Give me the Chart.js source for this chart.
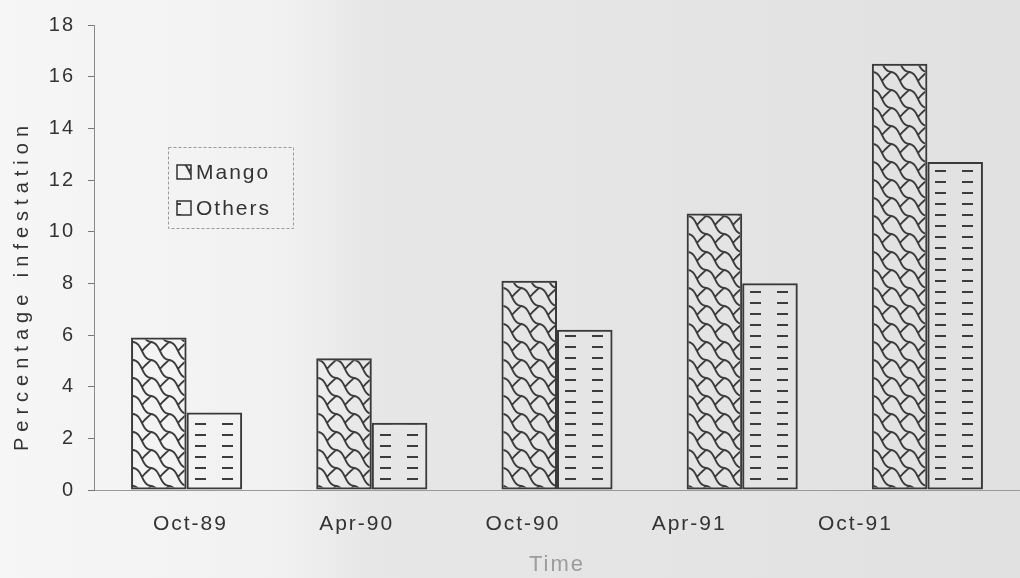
<!DOCTYPE html>
<html>
<head>
<meta charset="utf-8">
<script src="https://cdn.jsdelivr.net/npm/chart.js@4/dist/chart.umd.min.js"></script>
<style>
    html, body { margin: 0; padding: 0; background: #ececec; }
    #wrap { width: 1020px; height: 578px; position: relative; }
</style>
</head>
<body>
<div id="wrap"><canvas id="pestChart"></canvas></div>
<script>
// Values
const periods = ['Oct-89', 'Apr-90', 'Oct-90', 'Apr-91', 'Oct-91'];
const mangoValues = [5.9, 5.1, 8.1, 10.7, 16.5];
const otherValues = [3.0, 2.6, 6.2, 8.0, 12.7];
const yTicks = [0, 2, 4, 6, 8, 10, 12, 14, 16, 18];

// The scan is skewed: the period labels sit closer together than the bar groups,
// so they go on their own linear axis (index 0..4) with this range
const labelAxisMin = -0.58;
const labelAxisMax = 4.99;

const FONT = '"Liberation Sans", Arial, sans-serif';
const INK = '#333';

const ctx = document.getElementById('pestChart').getContext('2d');

// Hatch tile for Mango: wavy diagonal "scale" lines
function makeScaleTile() {
    const tile = document.createElement('canvas');
    tile.width = 18;
    tile.height = 18;
    const t = tile.getContext('2d');
    t.strokeStyle = '#3c3c3c';
    t.lineWidth = 1.8;
    t.lineCap = 'round';
    for (const dx of [-18, 0, 18]) {
        for (const dy of [-18, 0, 18]) {
            t.beginPath();
            t.moveTo(dx, dy);
            t.bezierCurveTo(dx + 10, dy + 1, dx + 8, dy + 17, dx + 18, dy + 18);
            t.moveTo(dx + 9, dy + 9);
            t.bezierCurveTo(dx + 12, dy + 5, dx + 15, dy + 3, dx + 18, dy);
            t.stroke();
        }
    }
    return tile;
}

// Hatch tile for Others: short horizontal dashes
function makeDashTile() {
    const tile = document.createElement('canvas');
    tile.width = 27;
    tile.height = 11;
    const t = tile.getContext('2d');
    t.strokeStyle = '#3c3c3c';
    t.lineWidth = 2;
    t.beginPath();
    t.moveTo(8, 6);
    t.lineTo(19, 6);
    t.stroke();
    return tile;
}

const mangoTile = makeScaleTile();
const otherTile = makeDashTile();

// pattern anchored on the category centre so every bar gets the same hatch layout
function barFill(tile) {
    return function (c) {
        const p = ctx.createPattern(tile, 'repeat');
        const x = c.chart.scales.x;
        if (x && c.dataIndex !== undefined) {
            p.setTransform(new DOMMatrix().translate(Math.round(x.getPixelForValue(c.dataIndex)), 0));
        }
        return p;
    };
}

// Grey paper behind everything, a bit lighter on the left
const paper = {
    id: 'paper',
    beforeDraw(chart) {
        const c = chart.ctx;
        const g = c.createLinearGradient(0, 0, chart.width, 0);
        g.addColorStop(0, '#f6f6f6');
        g.addColorStop(0.28, '#f1f1f1');
        g.addColorStop(0.36, '#e7e7e7');
        g.addColorStop(1, '#e1e1e1');
        c.save();
        c.fillStyle = g;
        c.fillRect(0, 0, chart.width, chart.height);
        c.restore();
        c.letterSpacing = '2px';
    }
};

// y title is printed very wide in the original
const spacedTitle = {
    id: 'spacedTitle',
    beforeDraw(chart) {
        const s = chart.scales.y;
        if (s._spaced) return;
        s._spaced = true;
        const orig = s.drawTitle.bind(s);
        s.drawTitle = function () {
            const c = this.ctx;
            c.save();
            c.letterSpacing = '6px';
            c.translate(0, 28);
            orig();
            c.restore();
        };
    }
};

// Legend box sitting inside the plot
const boxLegend = {
    id: 'boxLegend',
    afterDraw(chart) {
        const c = chart.ctx;
        c.save();
        c.letterSpacing = '2px';
        c.setLineDash([3, 2]);
        c.strokeStyle = '#9a9a9a';
        c.lineWidth = 1;
        c.strokeRect(168.5, 147.5, 125, 81);
        c.setLineDash([]);
        chart.data.datasets.forEach((ds, i) => {
            const cy = 172 + i * 36;
            c.fillStyle = c.createPattern(ds.tile, 'repeat');
            c.fillRect(177, cy - 7, 14, 14);
            c.strokeStyle = INK;
            c.lineWidth = 1.5;
            c.strokeRect(177, cy - 7, 14, 14);
            c.fillStyle = INK;
            c.font = '21px ' + FONT;
            c.textBaseline = 'middle';
            c.textAlign = 'left';
            c.fillText(ds.label, 196, cy + 1);
        });
        c.restore();
    }
};

const chart = new Chart(ctx, {
    type: 'bar',
    data: {
        labels: periods,
        datasets: [{
            label: 'Mango',
            data: mangoValues,
            tile: mangoTile,
            backgroundColor: barFill(mangoTile),
            borderColor: '#3a3a3a',
            borderWidth: 2,
            borderSkipped: false
        }, {
            label: 'Others',
            data: otherValues,
            tile: otherTile,
            backgroundColor: barFill(otherTile),
            borderColor: '#3a3a3a',
            borderWidth: 2,
            borderSkipped: false
        }]
    },
    options: {
        responsive: true,
        maintainAspectRatio: false,
        animation: false,
        datasets: {
            bar: { categoryPercentage: 0.6, barPercentage: 1.0 }
        },
        layout: { padding: { top: 24, right: 0, bottom: 0, left: 0 } },
        plugins: {
            legend: { display: false },
            tooltip: { enabled: false }
        },
        scales: {
            x: {
                type: 'category',
                weight: 0,
                afterFit: s => { s.height = 0; },
                grid: { display: false },
                border: { color: '#9a9a9a', width: 1 },
                ticks: { display: false }
            },
            xl: {
                type: 'linear',
                position: 'bottom',
                weight: 1,
                offset: false,
                min: labelAxisMin,
                max: labelAxisMax,
                afterFit: s => { s.height = 88; },
                // invisible tick marks only push the labels down
                grid: { display: false, drawTicks: true, tickLength: 22, offset: false },
                border: { display: false },
                ticks: {
                    stepSize: 1,
                    autoSkip: false,
                    maxRotation: 0,
                    padding: 0,
                    color: INK,
                    font: { family: FONT, size: 21 },
                    callback: v => Number.isInteger(v) ? (periods[v] || '') : ''
                },
                title: {
                    display: true,
                    text: 'Time',
                    color: '#9c9c9c',
                    font: { family: FONT, size: 22 },
                    padding: { top: 0, bottom: 0 }
                }
            },
            y: {
                min: yTicks[0],
                max: yTicks[yTicks.length - 1],
                afterFit: s => { s.width = 94; },
                grid: {
                    drawOnChartArea: false,
                    drawTicks: true,
                    tickLength: 6,
                    color: '#777'
                },
                border: { color: '#888', width: 1, dash: [2, 2] },
                ticks: {
                    stepSize: yTicks[1] - yTicks[0],
                    padding: 13,
                    color: INK,
                    font: { family: FONT, size: 20 }
                },
                title: {
                    display: true,
                    text: 'Percentage infestation',
                    color: INK,
                    font: { family: FONT, size: 20 },
                    padding: { top: 10, bottom: 0 }
                }
            }
        }
    },
    plugins: [paper, spacedTitle, boxLegend]
});
</script>
</body>
</html>
